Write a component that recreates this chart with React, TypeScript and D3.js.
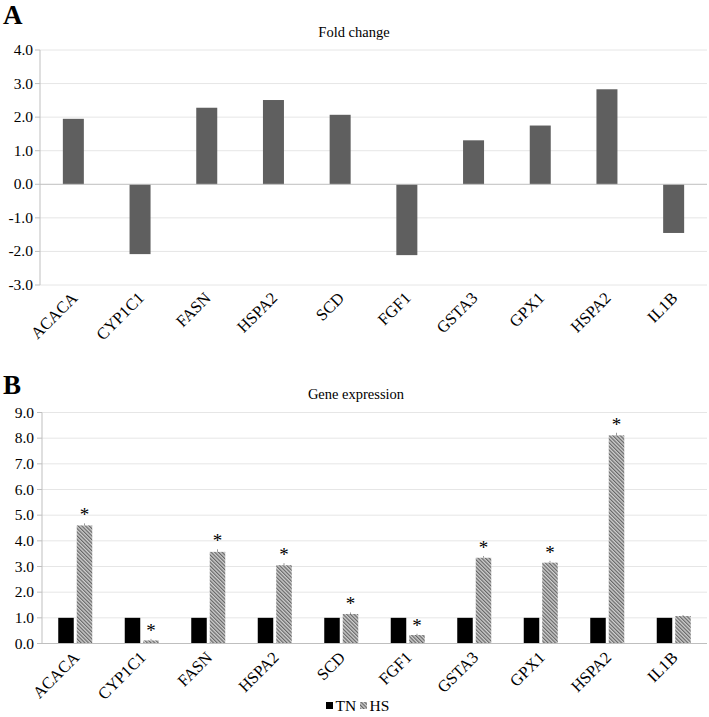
import React from "react";
import * as d3 from "d3";

const genes = ["ACACA", "CYP1C1", "FASN", "HSPA2", "SCD", "FGF1", "GSTA3", "GPX1", "HSPA2", "IL1B"];
const foldChange = [1.95, -2.08, 2.28, 2.51, 2.07, -2.11, 1.31, 1.75, 2.83, -1.45];
const tnValues = [1, 1, 1, 1, 1, 1, 1, 1, 1, 1];
const hsValues = [4.6, 0.12, 3.57, 3.05, 1.15, 0.33, 3.34, 3.15, 8.11, 1.07];
const hsErrors = [0.08, 0.06, 0.1, 0.08, 0.06, 0.05, 0.07, 0.07, 0.1, 0.04];
const hsSignificant = [true, true, true, true, true, true, true, true, true, false];
const ticksA = [-3, -2, -1, 0, 1, 2, 3, 4];
const ticksB = [0, 1, 2, 3, 4, 5, 6, 7, 8, 9];
const legendItems = ["TN", "HS"];

const FONT = "'Liberation Serif', 'Times New Roman', serif";
const GRID = "#e6e6e6";
const AXIS = "#bfbfbf";

export default function App() {
  // Panel A
  const xA = d3.scaleBand<number>().domain(d3.range(genes.length)).range([40, 707]);
  const yA = d3.scaleLinear().domain([-3, 4]).range([285, 50]);
  const barWA = 21;

  // Panel B
  const xB = d3.scaleBand<number>().domain(d3.range(genes.length)).range([42, 707]);
  const yB = d3.scaleLinear().domain([0, 9]).range([643.5, 412.5]);
  const barWB = 15.5;
  const gapB = 3;

  return (
    <svg width={709} height={717} style={{ position: "absolute", left: 0, top: 0, background: "#fff" }} fontFamily={FONT}>
      <defs>
        <pattern id="hatch" width={2.6} height={2.6} patternUnits="userSpaceOnUse" patternTransform="rotate(-45)">
          <rect width={2.6} height={2.6} fill="#cfcfcf" />
          <line x1={0.6} y1={0} x2={0.6} y2={2.6} stroke="#666" strokeWidth={1.2} />
        </pattern>
      </defs>
      <rect width={709} height={717} fill="#fff" />

      {/* Panel A */}
      <text x={3} y={24} fontSize={27} fontWeight="bold">A</text>
      <text x={354} y={37} fontSize={14.5} textAnchor="middle">Fold change</text>
      {ticksA.map((t) => (
        <g key={"ga" + t}>
          {t !== 0 && <line x1={40} x2={707} y1={yA(t)} y2={yA(t)} stroke={GRID} />}
          <line x1={35} x2={40} y1={yA(t)} y2={yA(t)} stroke={AXIS} />
          <text x={33} y={yA(t) + 5} fontSize={15.5} textAnchor="end">{t.toFixed(1)}</text>
        </g>
      ))}
      <line x1={40} x2={40} y1={yA(4)} y2={yA(-3)} stroke={AXIS} />
      {foldChange.map((v, i) => {
        const cx = xA(i)! + xA.bandwidth() / 2;
        return (
          <rect key={"ba" + i} x={cx - barWA / 2} width={barWA} y={Math.min(yA(v), yA(0))} height={Math.abs(yA(v) - yA(0))} fill="#5f5f5f" />
        );
      })}
      <line x1={40} x2={707} y1={yA(0)} y2={yA(0)} stroke={AXIS} />
      {genes.map((g, i) => {
        const cx = xA(i)! + xA.bandwidth() / 2;
        return (
          <text key={"la" + i} transform={`translate(${cx + 5},${yA(-3) + 14}) rotate(-45)`} fontSize={16.5} textAnchor="end">{g}</text>
        );
      })}

      {/* Panel B */}
      <text x={3} y={394} fontSize={27} fontWeight="bold">B</text>
      <text x={356} y={399} fontSize={14.5} textAnchor="middle">Gene expression</text>
      {ticksB.map((t) => (
        <g key={"gb" + t}>
          {t !== 0 && <line x1={42} x2={707} y1={yB(t)} y2={yB(t)} stroke={GRID} />}
          <line x1={37} x2={42} y1={yB(t)} y2={yB(t)} stroke={AXIS} />
          <text x={34} y={yB(t) + 5} fontSize={15.5} textAnchor="end">{t.toFixed(1)}</text>
        </g>
      ))}
      <line x1={42} x2={42} y1={yB(9)} y2={yB(0)} stroke={AXIS} />
      {genes.map((g, i) => {
        const cx = xB(i)! + xB.bandwidth() / 2;
        const hv = hsValues[i];
        const he = hsErrors[i];
        return (
          <g key={"bb" + i}>
            <rect x={cx - gapB / 2 - barWB} width={barWB} y={yB(tnValues[i])} height={yB(0) - yB(tnValues[i])} fill="#000" />
            <rect x={cx + gapB / 2} width={barWB} y={yB(hv)} height={yB(0) - yB(hv)} fill="url(#hatch)" />
            <line x1={cx + gapB / 2 + barWB / 2} x2={cx + gapB / 2 + barWB / 2} y1={yB(hv + he)} y2={yB(hv)} stroke="#999" strokeWidth={1} />
            {hsSignificant[i] && (
              <text x={cx + gapB / 2 + barWB / 2} y={yB(hv + he) - 2} fontSize={19} textAnchor="middle">*</text>
            )}
          </g>
        );
      })}
      <line x1={42} x2={707} y1={yB(0)} y2={yB(0)} stroke={AXIS} />
      {genes.map((g, i) => {
        const cx = xB(i)! + xB.bandwidth() / 2;
        return (
          <text key={"lb" + i} transform={`translate(${cx + 5},${yB(0) + 15}) rotate(-45)`} fontSize={16.5} textAnchor="end">{g}</text>
        );
      })}

      {/* Legend */}
      {legendItems.map((name, i) => {
        const x0 = 326 + i * 34;
        return (
          <g key={"lg" + name}>
            <rect x={x0} y={702} width={7} height={7} fill={i === 0 ? "#000" : "url(#hatch)"} />
            <text x={x0 + 9.5} y={711} fontSize={15.5}>{name}</text>
          </g>
        );
      })}
    </svg>
  );
}
